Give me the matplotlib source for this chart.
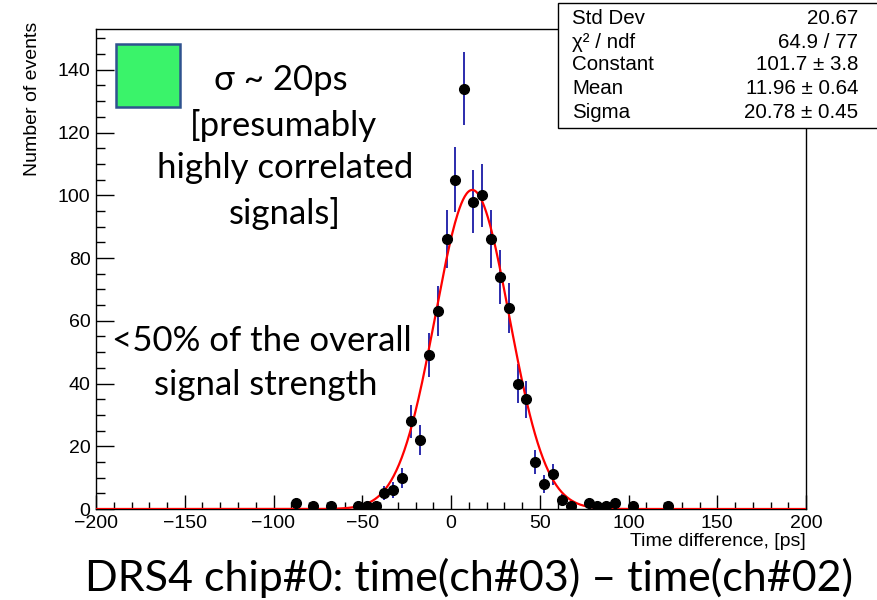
import numpy as np
import matplotlib
matplotlib.use("Agg")
import matplotlib.pyplot as plt
from matplotlib.patches import Rectangle

# histogram: bin centres (5 ps bins) and counts, empty bins left out
binCenters = [-87.5, -77.5, -67.5, -52.5, -47.5, -42.5, -37.5, -32.5, -27.5, -22.5,
              -17.5, -12.5, -7.5, -2.5, 2.5, 7.5, 12.5, 17.5, 22.5, 27.5,
              32.5, 37.5, 42.5, 47.5, 52.5, 57.5, 62.5, 67.5, 77.5, 82.5,
              87.5, 92.5, 102.5, 122.5]
counts = [2, 1, 1, 1, 1, 1, 5, 6, 10, 28,
          22, 49, 63, 86, 105, 134, 98, 100, 86, 74,
          64, 40, 35, 15, 8, 11, 3, 1, 2, 1,
          1, 2, 1, 1]

# gaussian fit parameters
fitConstant = 101.7
fitMean = 11.96
fitSigma = 20.78

statNames = ["Std Dev", "\u03c7\u00b2 / ndf", "Constant", "Mean", "Sigma"]
statValues = ["20.67", "64.9 / 77", "101.7 \u00b1 3.8", "11.96 \u00b1 0.64", "20.78 \u00b1 0.45"]

xTicks = [-200, -150, -100, -50, 0, 50, 100, 150, 200]
yTicks = [0, 20, 40, 60, 80, 100, 120, 140]

W, H = 877, 600
rootFont = "Liberation Sans"
slideFont = ["Lato", "DejaVu Sans"]


def fx(px):
    return px / W


def fy(py):
    return 1 - py / H


fig = plt.figure(figsize=(W / 100, H / 100), dpi=100)
ax = fig.add_axes([fx(96), fy(509), fx(806) - fx(96), fy(29) - fy(509)])

x = np.array(binCenters)
y = np.array(counts, dtype=float)

xs = np.linspace(-200, 200, 800)
gauss = fitConstant * np.exp(-0.5 * ((xs - fitMean) / fitSigma) ** 2)

ax.errorbar(x, y, yerr=np.sqrt(y), fmt="none", ecolor="#1a1aa6", elinewidth=1.3, zorder=2)
ax.plot(xs, gauss, color="red", lw=1.6, zorder=3)
ax.plot(x, y, "o", color="black", markersize=7, zorder=4)

ax.set_xlim(-200, 200)
ax.set_ylim(0, 153)
ax.set_xticks(xTicks)
ax.set_xticks(np.arange(-200, 201, 10), minor=True)
ax.set_yticks(yTicks)
ax.set_yticks(np.arange(0, 151, 5), minor=True)
ax.set_xticklabels([str(t).replace("-", "\u2212") for t in xTicks], fontfamily=rootFont, fontsize=14)
ax.set_yticklabels([str(t) for t in yTicks], fontfamily=rootFont, fontsize=14)
ax.tick_params(axis="y", which="major", direction="in", length=13, width=1, pad=4)
ax.tick_params(axis="y", which="minor", direction="in", length=6.5, width=1)
ax.tick_params(axis="x", which="major", direction="in", length=10, width=1, pad=4)
ax.tick_params(axis="x", which="minor", direction="in", length=5, width=1)
for s in ax.spines.values():
    s.set_linewidth(1)

fig.text(fx(33), fy(22), "Number of events", rotation=90, ha="center", va="top",
         fontfamily=rootFont, fontsize=14)
fig.text(fx(806), fy(541), "Time difference, [ps]", ha="right", va="center",
         fontfamily=rootFont, fontsize=14)

# stats box
fig.add_artist(Rectangle((fx(558), fy(128)), fx(900) - fx(558), fy(3) - fy(128),
                         transform=fig.transFigure, facecolor="white", edgecolor="black",
                         lw=1, zorder=10))
rowY = [18, 42, 65, 88, 112]
for name, val, ry in zip(statNames, statValues, rowY):
    fig.text(fx(572), fy(ry), name, ha="left", va="center", fontfamily=rootFont,
             fontsize=14.8, zorder=11)
    fig.text(fx(858), fy(ry), val, ha="right", va="center", fontfamily=rootFont,
             fontsize=14.8, zorder=11)

# slide annotations
fig.add_artist(Rectangle((fx(116), fy(107)), fx(180) - fx(116), fy(44) - fy(107),
                         transform=fig.transFigure, facecolor="#3af36a", edgecolor="#2f528f",
                         lw=1.8, zorder=10))
noteLines = [("\u03c3 ~ 20ps", 281, 80), ("[presumably", 283, 125),
             ("highly correlated", 285, 168), ("signals]", 285, 213),
             ("<50% of the overall", 262, 341), ("signal strength", 266, 385)]
for txt, cx, cy in noteLines:
    fig.text(fx(cx), fy(cy), txt, ha="center", va="center", fontfamily=slideFont,
             fontsize=25, zorder=11)

fig.text(fx(469), fy(578), "DRS4 chip#0: time(ch#03) \u2013 time(ch#02)", ha="center",
         va="center", fontfamily=slideFont, fontsize=31)

fig.savefig("out.png", dpi=100)
